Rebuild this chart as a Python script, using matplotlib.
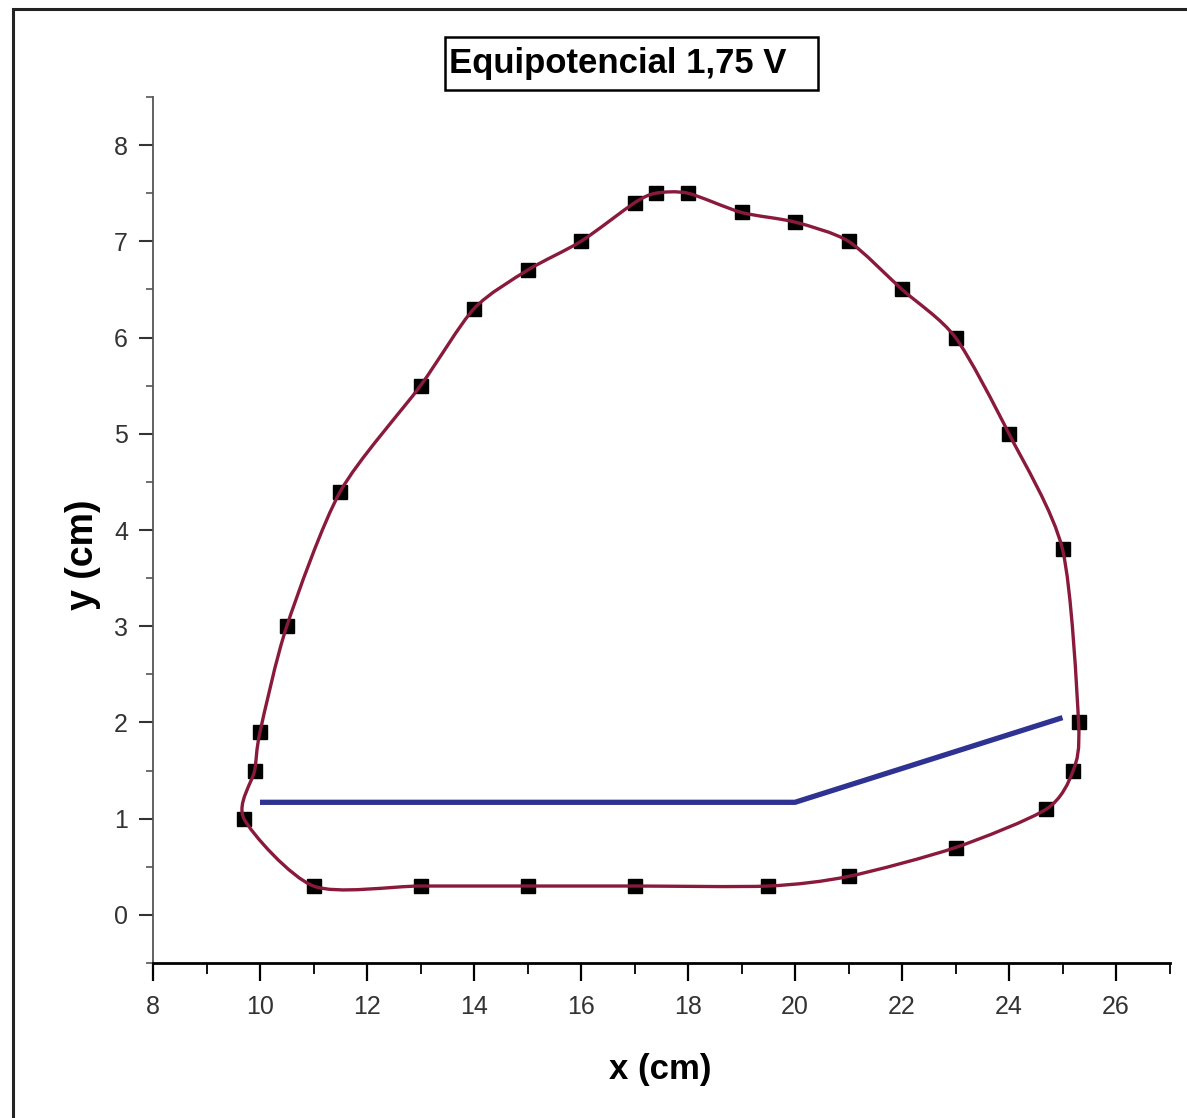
import matplotlib.pyplot as plt
import numpy as np
from matplotlib.path import Path
from matplotlib.patches import PathPatch, Rectangle
from matplotlib.ticker import MultipleLocator

# equipotential points, in the order they go round the loop
x_cm = [25.3, 25.2, 24.7, 23.0, 21.0, 19.5, 17.0, 15.0, 13.0, 11.0,
        9.7, 9.9, 10.0, 10.5, 11.5, 13.0, 14.0, 15.0, 16.0, 17.0,
        17.4, 18.0, 19.0, 20.0, 21.0, 22.0, 23.0, 24.0, 25.0]
y_cm = [2.0, 1.5, 1.1, 0.7, 0.4, 0.3, 0.3, 0.3, 0.3, 0.3,
        1.0, 1.5, 1.9, 3.0, 4.4, 5.5, 6.3, 6.7, 7.0, 7.4,
        7.5, 7.5, 7.3, 7.2, 7.0, 6.5, 6.0, 5.0, 3.8]

# electrode line
blue_x = [10, 20, 25]
blue_y = [1.17, 1.17, 2.05]

title = "Equipotencial 1,75 V"
bold_font = ['Liberation Sans', 'DejaVu Sans']
tick_font = ['Liberation Sans Narrow', 'Liberation Sans', 'DejaVu Sans']

W, H = 1187, 1118


def closed_spline_path(xs, ys, k=0.13):
    # cardinal spline through the points, written as cubic Bezier segments
    p = np.column_stack([xs, ys])
    n = len(p)
    verts = [p[0]]
    codes = [Path.MOVETO]
    for i in range(n):
        p0, p1, p2, p3 = p[i - 1], p[i], p[(i + 1) % n], p[(i + 2) % n]
        c1 = p1 + (p2 - p0) * k
        c2 = p2 - (p3 - p1) * k
        verts += [c1, c2, p2]
        codes += [Path.CURVE4] * 3
    return Path(verts, codes)


fig = plt.figure(figsize=(W / 100, H / 100), dpi=100)
fig.patch.set_facecolor('white')

# outer frame
fig.add_artist(Rectangle((13 / W, -0.01), 1.0, 1 - 9 / H + 0.01,
                         transform=fig.transFigure, fill=False,
                         edgecolor='#222222', linewidth=2.2))

ax = fig.add_axes([153 / W, 155 / H, (1169.5 - 153) / W, (1021 - 155) / H])

ax.add_patch(PathPatch(closed_spline_path(x_cm, y_cm), fill=False,
                       edgecolor='#8a1a3c', linewidth=2.4, zorder=3))
ax.plot(x_cm, y_cm, linestyle='none', marker='s', markersize=10,
        color='black', zorder=2)
ax.plot(blue_x, blue_y, color='#2e3290', linewidth=3.8, zorder=4,
        solid_capstyle='butt')

ax.set_xlim(8, 27)
ax.set_ylim(-0.5, 8.5)

for s in ['top', 'right']:
    ax.spines[s].set_visible(False)
ax.spines['left'].set_color('#555555')
ax.spines['left'].set_linewidth(1.3)
ax.spines['bottom'].set_color('black')
ax.spines['bottom'].set_linewidth(2.0)

ax.xaxis.set_major_locator(MultipleLocator(2))
ax.xaxis.set_minor_locator(MultipleLocator(1))
ax.yaxis.set_major_locator(MultipleLocator(1))
ax.yaxis.set_minor_locator(MultipleLocator(0.5))
ax.tick_params(axis='x', which='major', direction='out', length=13, width=1.6,
               pad=10, labelsize=18, labelcolor='#333333')
ax.tick_params(axis='x', which='minor', direction='out', length=8, width=1.3)
ax.tick_params(axis='y', which='major', direction='out', length=10, width=1.5,
               pad=8, labelsize=18, labelcolor='#333333', color='#333333')
ax.tick_params(axis='y', which='minor', direction='out', length=5, width=1.2,
               color='#555555')
for lab in ax.get_xticklabels() + ax.get_yticklabels():
    lab.set_family(tick_font)

ax.set_xlabel('x (cm)', fontsize=25, fontweight='bold', family=bold_font)
ax.set_ylabel('y (cm)', fontsize=27, fontweight='bold', family=bold_font)
ax.xaxis.set_label_coords((660 - 153) / (1169.5 - 153), -(1070 - 963) / (963 - 97))
ax.yaxis.set_label_coords(-(153 - 83) / (1169.5 - 153), (963 - 555) / (963 - 97))
ax.xaxis.label.set_va('center')
ax.yaxis.label.set_va('center')

# title box
fig.add_artist(Rectangle((445 / W, 1 - 90 / H), (818 - 445) / W, 53 / H,
                         transform=fig.transFigure, facecolor='white',
                         edgecolor='black', linewidth=1.8))
fig.text(449 / W, 1 - 63 / H, title, ha='left', va='center',
         fontsize=25, fontweight='bold', family=bold_font)

fig.savefig('out.png', dpi=100, facecolor='white')
